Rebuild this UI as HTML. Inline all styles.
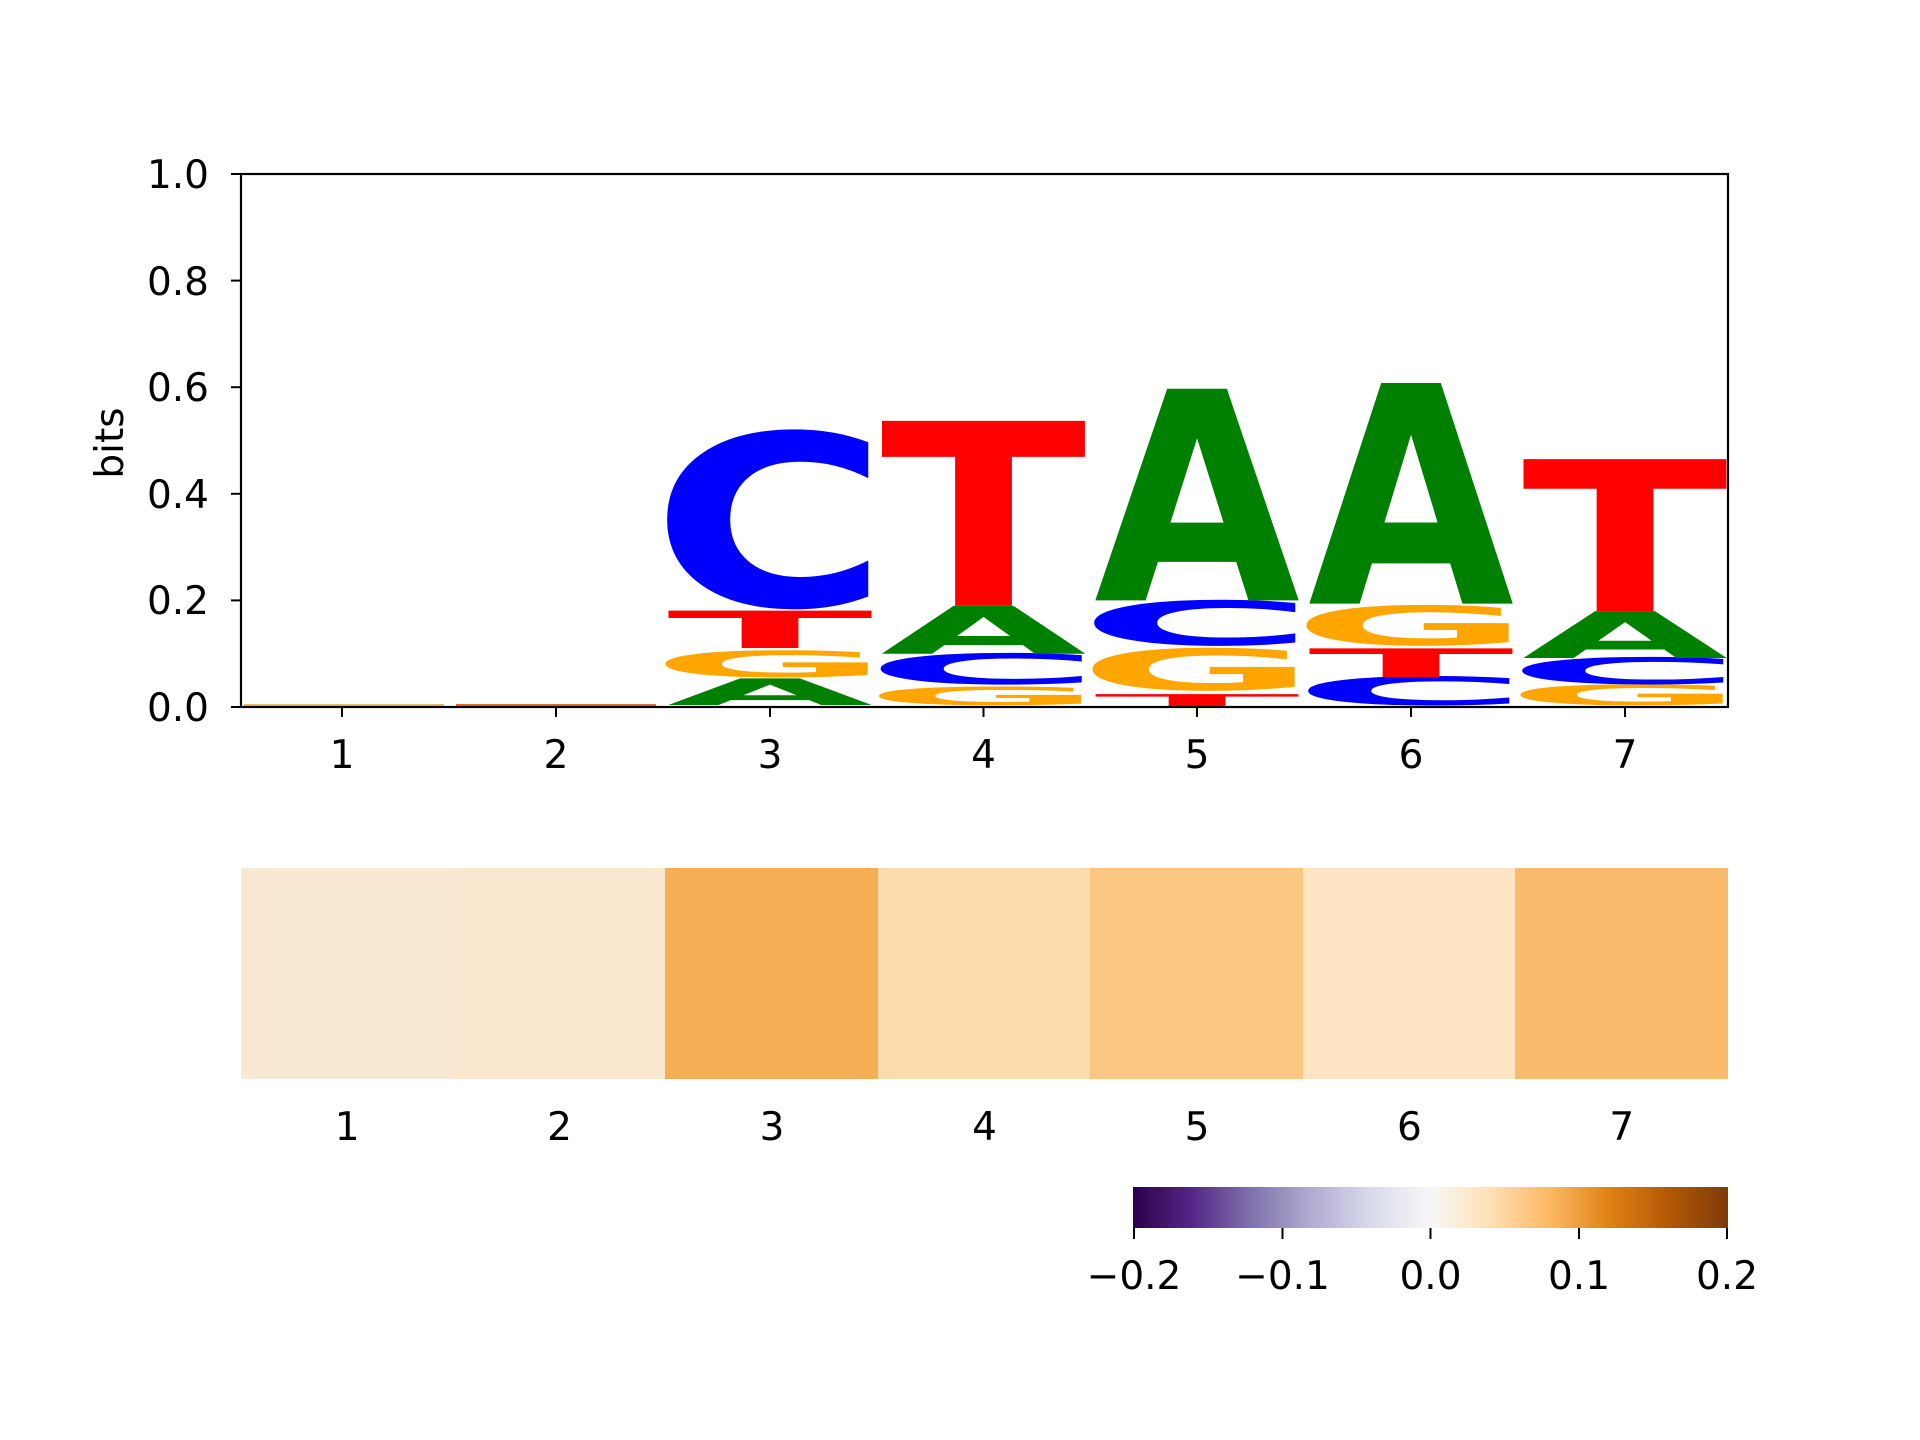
<!DOCTYPE html>
<html><head><meta charset="utf-8"><style>
html,body{margin:0;padding:0;background:#fff;}
svg{display:block;}
.t{font-family:"DejaVu Sans",sans-serif;font-size:39px;fill:#000;}
.L{font-family:"DejaVu Sans",sans-serif;font-weight:bold;font-size:100px;}
</style></head><body>
<svg width="1920" height="1440" viewBox="0 0 1920 1440" xmlns="http://www.w3.org/2000/svg">
<defs>
<linearGradient id="cb" x1="0" x2="1" y1="0" y2="0">
<stop offset="0" stop-color="#2d004b"/><stop offset="0.1" stop-color="#542788"/>
<stop offset="0.2" stop-color="#8073ac"/><stop offset="0.3" stop-color="#b2abd2"/>
<stop offset="0.4" stop-color="#d8daeb"/><stop offset="0.5" stop-color="#f7f7f7"/>
<stop offset="0.6" stop-color="#fee0b6"/><stop offset="0.7" stop-color="#fdb863"/>
<stop offset="0.8" stop-color="#e08214"/><stop offset="0.9" stop-color="#b35806"/>
<stop offset="1" stop-color="#7f3b08"/>
</linearGradient>
</defs>
<rect x="244" y="704" width="200" height="3" fill="#e0c070"/>
<rect x="456" y="704" width="200" height="3" fill="#e07030"/>
<g text-anchor="middle">
<!-- pos3 -->
<text class="L" fill="green" textLength="206" lengthAdjust="spacingAndGlyphs" transform="translate(770,705) scale(1,0.365)">A</text>
<text class="L" fill="orange" textLength="238" lengthAdjust="spacingAndGlyphs" transform="translate(770,677) scale(1,0.36)">G</text>
<text class="L" fill="red" textLength="206" lengthAdjust="spacingAndGlyphs" transform="translate(770,648) scale(1,0.512)">T</text>
<text class="L" fill="blue" textLength="238" lengthAdjust="spacingAndGlyphs" transform="translate(770,606) scale(1,2.38)">C</text>
<!-- pos4 -->
<text class="L" fill="orange" textLength="238" lengthAdjust="spacingAndGlyphs" transform="translate(983.5,705) scale(1,0.25)">G</text>
<text class="L" fill="blue" textLength="238" lengthAdjust="spacingAndGlyphs" transform="translate(983.5,684) scale(1,0.42)">C</text>
<text class="L" fill="green" textLength="206" lengthAdjust="spacingAndGlyphs" transform="translate(983.5,653.7) scale(1,0.658)">A</text>
<text class="L" fill="red" textLength="206" lengthAdjust="spacingAndGlyphs" transform="translate(983.5,605.7) scale(1,2.536)">T</text>
<!-- pos5 -->
<text class="L" fill="red" textLength="206" lengthAdjust="spacingAndGlyphs" transform="translate(1197,707) scale(1,0.176)">T</text>
<text class="L" fill="orange" textLength="238" lengthAdjust="spacingAndGlyphs" transform="translate(1197,690) scale(1,0.57)">G</text>
<text class="L" fill="blue" textLength="238" lengthAdjust="spacingAndGlyphs" transform="translate(1197,645) scale(1,0.61)">C</text>
<text class="L" fill="green" textLength="206" lengthAdjust="spacingAndGlyphs" transform="translate(1197,600.4) scale(1,2.903)">A</text>
<!-- pos6 -->
<text class="L" fill="blue" textLength="238" lengthAdjust="spacingAndGlyphs" transform="translate(1411,705) scale(1,0.39)">C</text>
<text class="L" fill="red" textLength="206" lengthAdjust="spacingAndGlyphs" transform="translate(1411,677.2) scale(1,0.395)">T</text>
<text class="L" fill="orange" textLength="238" lengthAdjust="spacingAndGlyphs" transform="translate(1411,645) scale(1,0.54)">G</text>
<text class="L" fill="green" textLength="206" lengthAdjust="spacingAndGlyphs" transform="translate(1411,603.6) scale(1,3.026)">A</text>
<!-- pos7 -->
<text class="L" fill="orange" textLength="238" lengthAdjust="spacingAndGlyphs" transform="translate(1625,705) scale(1,0.28)">G</text>
<text class="L" fill="blue" textLength="238" lengthAdjust="spacingAndGlyphs" transform="translate(1625,684) scale(1,0.365)">C</text>
<text class="L" fill="green" textLength="206" lengthAdjust="spacingAndGlyphs" transform="translate(1625,658) scale(1,0.643)">A</text>
<text class="L" fill="red" textLength="206" lengthAdjust="spacingAndGlyphs" transform="translate(1625,611.1) scale(1,2.085)">T</text>
</g>
<rect x="241" y="174" width="1487" height="533" fill="none" stroke="#000" stroke-width="2.2"/>
<g stroke="#000" stroke-width="2">
<line x1="231" x2="241" y1="707" y2="707"/><line x1="231" x2="241" y1="600.4" y2="600.4"/>
<line x1="231" x2="241" y1="493.8" y2="493.8"/><line x1="231" x2="241" y1="387.2" y2="387.2"/>
<line x1="231" x2="241" y1="280.6" y2="280.6"/><line x1="231" x2="241" y1="174" y2="174"/>
<line x1="342" x2="342" y1="707" y2="717"/><line x1="556" x2="556" y1="707" y2="717"/>
<line x1="770" x2="770" y1="707" y2="717"/><line x1="983.5" x2="983.5" y1="707" y2="717"/>
<line x1="1197" x2="1197" y1="707" y2="717"/><line x1="1411" x2="1411" y1="707" y2="717"/>
<line x1="1625" x2="1625" y1="707" y2="717"/>
</g>
<g class="t" text-anchor="end">
<text x="209" y="721">0.0</text><text x="209" y="614">0.2</text><text x="209" y="508">0.4</text>
<text x="209" y="401">0.6</text><text x="209" y="295">0.8</text><text x="209" y="188">1.0</text>
</g>
<text class="t" text-anchor="middle" transform="translate(123,443) rotate(-90)">bits</text>
<g class="t" text-anchor="middle">
<text x="342" y="768">1</text><text x="556" y="768">2</text><text x="770" y="768">3</text>
<text x="983.5" y="768">4</text><text x="1197" y="768">5</text><text x="1411" y="768">6</text>
<text x="1625" y="768">7</text>
</g>
<rect x="241" y="868" width="213" height="211" fill="#f9e8d3"/>
<rect x="453" y="868" width="213" height="211" fill="#f9e7cf"/>
<rect x="665" y="868" width="213" height="211" fill="#f5ae54"/>
<rect x="878" y="868" width="213" height="211" fill="#fcdcad"/>
<rect x="1090" y="868" width="213" height="211" fill="#fcc683"/>
<rect x="1303" y="868" width="213" height="211" fill="#fde4c3"/>
<rect x="1515" y="868" width="213" height="211" fill="#fbbb6d"/>
<g class="t" text-anchor="middle">
<text x="347.2" y="1140">1</text><text x="559.6" y="1140">2</text><text x="772" y="1140">3</text>
<text x="984.5" y="1140">4</text><text x="1197" y="1140">5</text><text x="1409.4" y="1140">6</text>
<text x="1621.8" y="1140">7</text>
</g>
<rect x="1133" y="1187" width="595" height="41" fill="url(#cb)"/>
<g stroke="#000" stroke-width="2">
<line x1="1134" x2="1134" y1="1228" y2="1239"/><line x1="1282.5" x2="1282.5" y1="1228" y2="1239"/>
<line x1="1430.5" x2="1430.5" y1="1228" y2="1239"/><line x1="1579" x2="1579" y1="1228" y2="1239"/>
<line x1="1727" x2="1727" y1="1228" y2="1239"/>
</g>
<g class="t" text-anchor="middle">
<text x="1134" y="1289">−0.2</text><text x="1282.5" y="1289">−0.1</text><text x="1430.5" y="1289">0.0</text>
<text x="1579" y="1289">0.1</text><text x="1727" y="1289">0.2</text>
</g>
</svg>
</body></html>
